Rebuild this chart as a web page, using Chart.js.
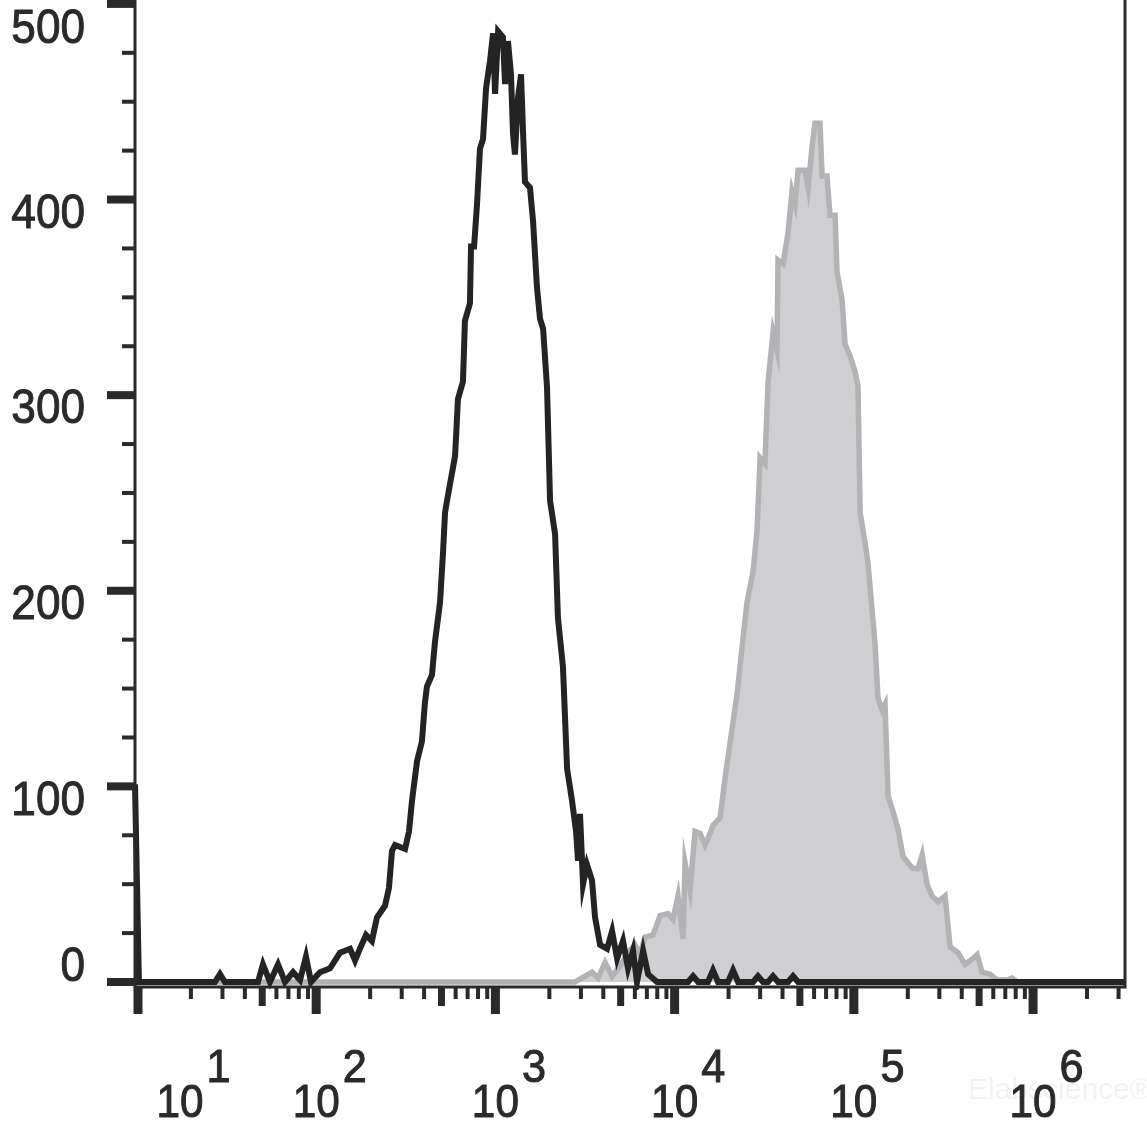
<!DOCTYPE html>
<html lang="en">
<head>
  <meta charset="UTF-8">
  <title>Histogram</title>
  <script src="https://cdn.jsdelivr.net/npm/chart.js"></script>
  <style>
    html, body { margin: 0; padding: 0; background: #fff; }
    .chart-box { width: 1147px; height: 1128px; position: relative; }
  </style>
</head>
<body>
  <div class="chart-box">
    <canvas id="histChart"></canvas>
  </div>

  <script>
    // x values are log10 of the fluorescence intensity, y values are event counts
    const isotypeLog = [0.989, 1.011, 1.435, 1.463, 1.491, 1.675, 1.703, 1.742, 1.787, 1.826, 1.871, 1.910, 1.943, 1.971,
      2.021, 2.077, 2.133, 2.161, 2.189, 2.217, 2.244, 2.278, 2.311, 2.339, 2.384, 2.406, 2.423, 2.440, 2.496, 2.518,
      2.535, 2.563, 2.590, 2.607, 2.618, 2.646, 2.663, 2.691, 2.708, 2.719, 2.730, 2.775, 2.791, 2.819, 2.830, 2.858,
      2.864, 2.881, 2.897, 2.914, 2.931, 2.948, 2.970, 2.987, 2.998, 3.015, 3.042, 3.054, 3.070, 3.087, 3.098, 3.109,
      3.126, 3.143, 3.154, 3.165, 3.193, 3.210, 3.232, 3.249, 3.266, 3.288, 3.305, 3.333, 3.349, 3.377, 3.400, 3.427,
      3.450, 3.461, 3.472, 3.489, 3.511, 3.539, 3.556, 3.584, 3.623, 3.651, 3.679, 3.712, 3.740, 3.768, 3.790, 3.824,
      3.852, 3.902, 3.974, 4.075, 4.103, 4.131, 4.186, 4.214, 4.242, 4.298, 4.326, 4.354, 4.438, 4.465, 4.493, 4.521,
      4.549, 4.577, 4.633, 4.661, 4.689, 6.513];
    const isotypeCount = [101, 0, 0, 4, 0, 0, 9, 0, 9, 0, 5, 1, 13, 0,
      5, 7, 15, 16, 17, 11, 17, 24, 21, 33, 39, 48, 67, 70, 68, 77,
      93, 113, 123, 143, 151, 157, 174, 194, 220, 240, 246, 269, 298, 307, 338, 347,
      376, 376, 397, 426, 431, 457, 471, 485, 454, 486, 483, 459, 481, 464, 434, 423,
      452, 464, 435, 409, 406, 389, 355, 339, 334, 304, 246, 229, 186, 161, 109, 93,
      77, 62, 86, 50, 60, 52, 33, 19, 17, 26, 12, 21, 7, 16, 0, 16,
      4, 0, 0, 0, 3, 0, 0, 6, 0, 0, 6, 0, 0, 3, 0, 0,
      3, 0, 0, 3, 0, 0];

    const stainedLog = [0.989, 3.444, 3.500, 3.539, 3.573, 3.612, 3.651, 3.695, 3.740, 3.779, 3.807, 3.835, 3.879, 3.919,
      3.963, 3.991, 4.019, 4.047, 4.058, 4.086, 4.114, 4.142, 4.170, 4.198, 4.214, 4.254, 4.281, 4.309, 4.348, 4.382,
      4.404, 4.438, 4.460, 4.477, 4.504, 4.521, 4.549, 4.571, 4.577, 4.605, 4.633, 4.655, 4.672, 4.689, 4.728, 4.745,
      4.767, 4.783, 4.811, 4.823, 4.850, 4.867, 4.895, 4.906, 4.934, 4.951, 4.979, 5.007, 5.023, 5.035, 5.062, 5.079,
      5.101, 5.118, 5.135, 5.158, 5.174, 5.191, 5.219, 5.247, 5.275, 5.302, 5.330, 5.358, 5.381, 5.408, 5.436, 5.470,
      5.509, 5.537, 5.581, 5.621, 5.665, 5.688, 5.715, 5.760, 5.799, 5.855, 5.883, 5.911, 6.513];
    const stainedCount = [0, 0, 3, 5, 2, 10, 3, 8, 15, 19, 14, 23, 24, 34,
      35, 32, 44, 22, 61, 47, 77, 76, 70, 76, 80, 84, 104, 122, 147, 176,
      194, 210, 231, 268, 265, 306, 332, 323, 369, 367, 383, 404, 398, 415, 415, 406,
      427, 439, 439, 412, 412, 392, 392, 363, 349, 326, 320, 312, 305, 240, 225, 214,
      191, 173, 145, 139, 142, 95, 87, 78, 64, 61, 58, 58, 65, 50, 44, 41,
      44, 18, 15, 9, 12, 14, 5, 4, 1, 1, 2, 0, 0];

    const xDecades = [1, 2, 3, 4, 5, 6];
    const yTickValues = [0, 100, 200, 300, 400, 500];
    const yMinorStep = 25;

    const inkColor = '#2a2a2a';

    function toPoints(xs, ys) {
      return xs.map((x, i) => ({ x: x, y: ys[i] }));
    }

    // scaled text (the reference digits are a bit narrow and heavy)
    function drawText(ctx, text, x, y, align) {
      ctx.save();
      ctx.translate(x, y);
      ctx.scale(0.92, 1);
      ctx.textAlign = align;
      ctx.lineWidth = 1;
      ctx.fillText(text, 0, 0);
      ctx.strokeText(text, 0, 0);
      ctx.restore();
    }

    const axesPlugin = {
      id: 'cytoAxes',
      afterDatasetsDraw(chart) {
        const ctx = chart.ctx;
        const area = chart.chartArea;
        const xs = chart.scales.x;
        const ys = chart.scales.y;
        const axisY = area.bottom + 5;

        ctx.save();
        ctx.strokeStyle = inkColor;
        ctx.fillStyle = inkColor;
        ctx.lineCap = 'butt';

        // frame: left axis, right border, bottom axis line
        ctx.lineWidth = 3;
        ctx.beginPath();
        ctx.moveTo(area.left, area.top);
        ctx.lineTo(area.left, axisY + 1);
        ctx.moveTo(area.right, area.top);
        ctx.lineTo(area.right, axisY + 1);
        ctx.moveTo(area.left, axisY);
        ctx.lineTo(area.right + 1.5, axisY);
        ctx.stroke();

        // y ticks
        for (let v = 0; v <= ys.max; v += yMinorStep) {
          const py = ys.getPixelForValue(v);
          const major = v % 100 === 0;
          ctx.lineWidth = major ? 8 : 4;
          ctx.beginPath();
          ctx.moveTo(area.left - (major ? 28 : 13), py);
          ctx.lineTo(area.left, py);
          ctx.stroke();
        }

        // x ticks, log decades
        xDecades.concat([0]).forEach(n => {
          for (let k = 1; k <= 9; k++) {
            const e = n + Math.log10(k);
            if (e < xs.min - 0.02 || e > xs.max) continue;
            const px = Math.max(xs.getPixelForValue(e), area.left + 3);
            let len = 12, w = 4;
            if (k === 1) { len = 27; w = 9; }
            else if (k === 5) { len = 19; w = 7; }
            ctx.lineWidth = w;
            ctx.beginPath();
            ctx.moveTo(px, axisY);
            ctx.lineTo(px, axisY + len);
            ctx.stroke();
          }
        });

        // y labels
        ctx.font = '48px "Liberation Sans", Arial, sans-serif';
        ctx.textBaseline = 'middle';
        yTickValues.forEach(v => {
          let py = ys.getPixelForValue(v) + 15;
          py = Math.min(Math.max(py, 30), 968);
          drawText(ctx, String(v), 85, py, 'right');
        });

        // x labels 10^n
        ctx.textBaseline = 'alphabetic';
        xDecades.forEach(n => {
          const cx = Math.max(xs.getPixelForValue(n), area.left + 45);
          ctx.font = '46px "Liberation Sans", Arial, sans-serif';
          const w = ctx.measureText('10').width * 0.92;
          drawText(ctx, '10', cx, 1117, 'center');
          ctx.font = '47px "Liberation Sans", Arial, sans-serif';
          drawText(ctx, String(n), cx + w / 2 + 3, 1082, 'left');
        });

        // faint watermark
        ctx.fillStyle = 'rgba(0,0,0,0.05)';
        ctx.font = '30px "Liberation Sans", Arial, sans-serif';
        ctx.textAlign = 'left';
        ctx.fillText('Elabscience\u00AE', 968, 1099);

        ctx.restore();
      }
    };

    const ctxHist = document.getElementById('histChart').getContext('2d');
    new Chart(ctxHist, {
      type: 'line',
      data: {
        datasets: [
          {
            label: 'Isotype',
            data: toPoints(isotypeLog, isotypeCount),
            borderColor: '#242424',
            borderWidth: 6,
            pointRadius: 0,
            tension: 0,
            fill: false,
            clip: 8
          },
          {
            label: 'Stained',
            data: toPoints(stainedLog, stainedCount),
            borderColor: '#b3b3b6',
            backgroundColor: '#cfcfd1',
            borderWidth: 5.5,
            pointRadius: 0,
            tension: 0,
            fill: 'origin',
            clip: 8
          }
        ]
      },
      options: {
        responsive: true,
        maintainAspectRatio: false,
        animation: false,
        devicePixelRatio: 1,
        layout: {
          padding: { left: 135, right: 22, top: 0, bottom: 146 }
        },
        plugins: {
          legend: { display: false },
          tooltip: { enabled: false }
        },
        scales: {
          x: { type: 'linear', min: 0.989, max: 6.513, display: false },
          y: { min: 0, max: 502, display: false }
        }
      },
      plugins: [axesPlugin]
    });
  </script>
</body>
</html>
